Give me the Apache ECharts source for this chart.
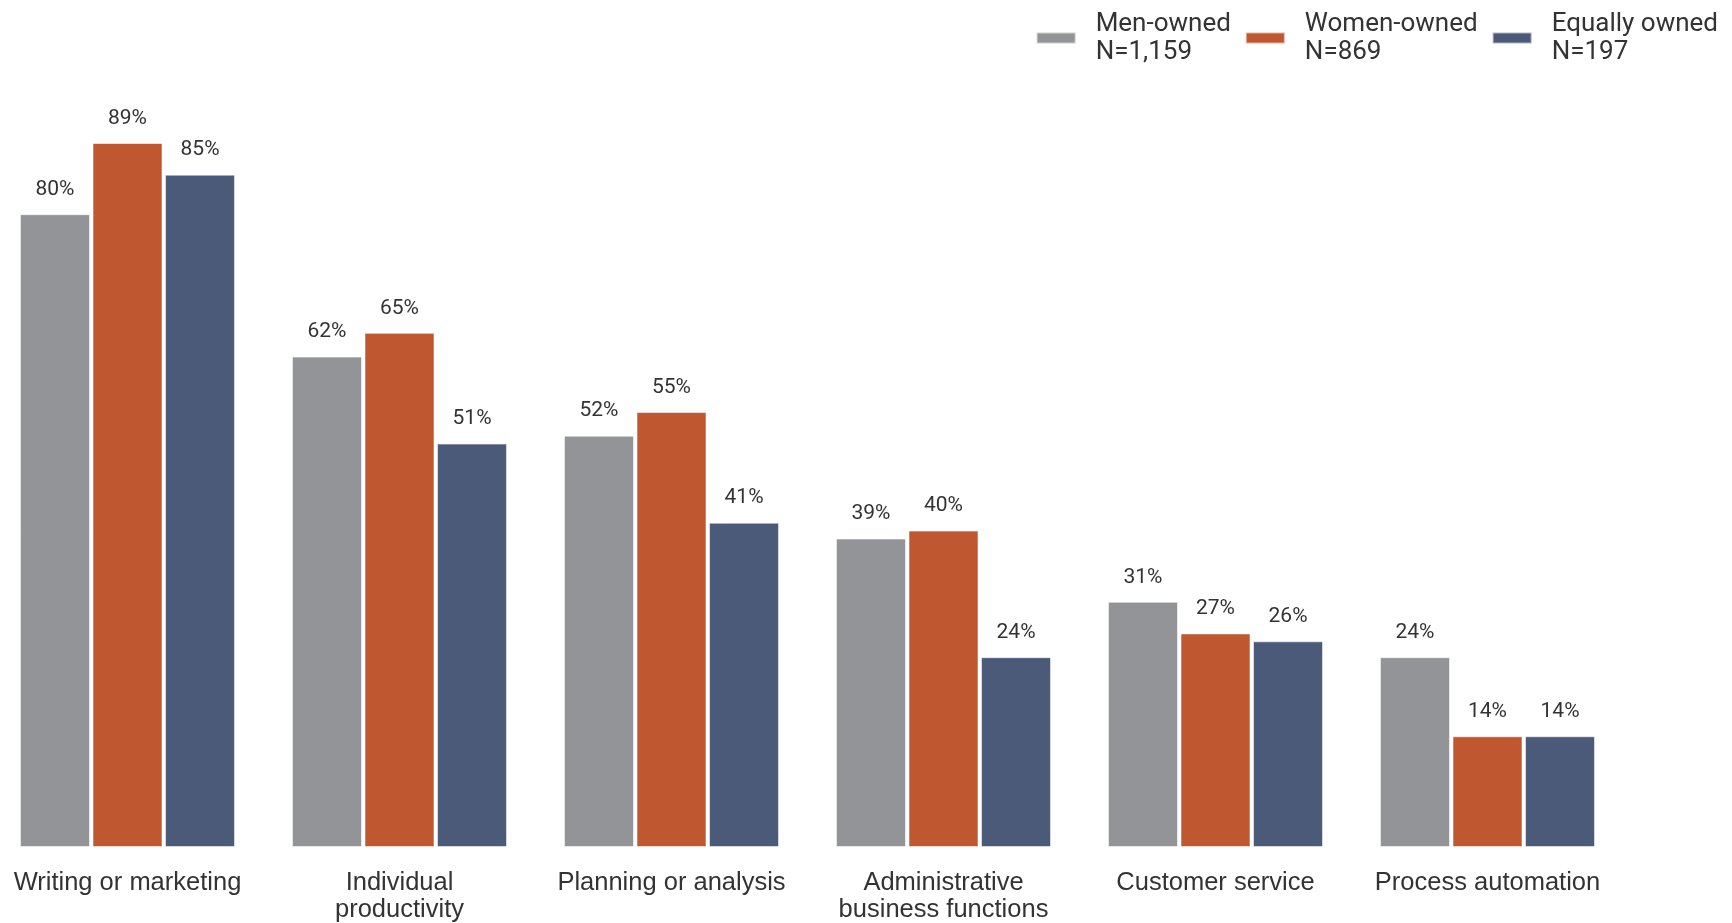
<!DOCTYPE html>
<html>
<head>
<meta charset="utf-8">
<script src="https://cdn.jsdelivr.net/npm/echarts@6/dist/echarts.min.js"></script>
<style>
html,body{margin:0;padding:0;background:#fff;}
#chart{width:1732px;height:923px;}
</style>
</head>
<body>
<div id="chart"></div>
<script>
const categories = ['Writing or marketing', 'Individual\nproductivity', 'Planning or analysis', 'Administrative\nbusiness functions', 'Customer service', 'Process automation'];
const seriesNames = ['Men-owned', 'Women-owned', 'Equally owned'];
const seriesNotes = ['N=1,159', 'N=869', 'N=197'];
const menOwned = [80, 62, 52, 39, 31, 24];
const womenOwned = [89, 65, 55, 40, 27, 14];
const equallyOwned = [85, 51, 41, 24, 26, 14];
const colors = ['#939498', '#BF5830', '#4B5A78'];

const chart = echarts.init(document.getElementById('chart'), null, {renderer: 'canvas'});
const dataSets = [menOwned, womenOwned, equallyOwned];
const series = dataSets.map((d, i) => ({
  name: seriesNames[i],
  type: 'bar',
  data: d,
  barWidth: 70,
  barGap: '3.6%',
  clip: false,
  itemStyle: {color: colors[i], borderColor: 'rgba(255,255,255,0.55)', borderWidth: 1},
  label: {
    show: true, position: 'top', distance: 14,
    formatter: '{c}%',
    fontFamily: 'Roboto', fontSize: 21, color: '#333333'
  },
  emphasis: {disabled: true}
}));

chart.setOption({
  animation: false,
  backgroundColor: '#ffffff',
  grid: {left: 127.5, right: 244.5, top: 56, bottom: 76, containLabel: false},
  legend: {
    top: 5, right: 9,
    itemWidth: 39, itemHeight: 11, itemGap: 14,
    icon: 'rect',
    data: seriesNames,
    formatter: name => name + '\n' + seriesNotes[seriesNames.indexOf(name)],
    textStyle: {fontFamily: 'Roboto', fontSize: 26, lineHeight: 28, color: '#333333', padding: [0, 0, 0, 15]}
  },
  xAxis: {
    type: 'category',
    data: categories,
    boundaryGap: false,
    axisLine: {show: false},
    axisTick: {show: false},
    axisLabel: {
      interval: 0, margin: 22,
      fontFamily: 'Liberation Sans', fontSize: 25.5, lineHeight: 27, color: '#333333'
    }
  },
  yAxis: {
    type: 'value', min: 0, max: 100,
    show: false
  },
  series: series
});
</script>
</body>
</html>
